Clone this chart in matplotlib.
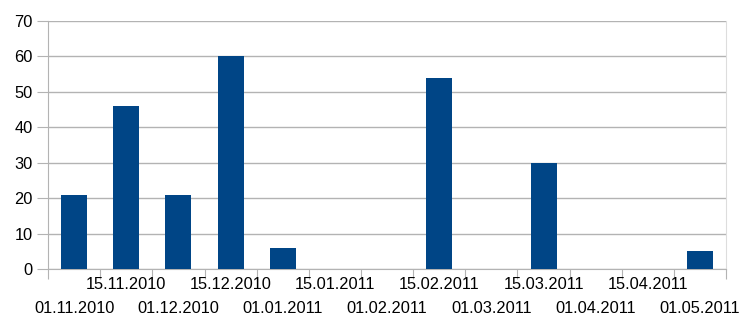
import matplotlib
matplotlib.use('Agg')
import matplotlib.pyplot as plt
import numpy as np

# Daten: halbmonatliche Kategorien
dates = ['01.11.2010', '15.11.2010', '01.12.2010', '15.12.2010', '01.01.2011',
         '15.01.2011', '01.02.2011', '15.02.2011', '01.03.2011', '15.03.2011',
         '01.04.2011', '15.04.2011', '01.05.2011']
values = [21, 46, 21, 60, 6, 0, 0, 54, 0, 30, 0, 0, 5]
yticks = [0, 10, 20, 30, 40, 50, 60, 70]

plt.rcParams['font.family'] = ['Liberation Sans', 'DejaVu Sans']

fig = plt.figure(figsize=(7.54, 3.19), dpi=100)
ax = fig.add_axes([0.0637, 0.1567, 0.963 - 0.0637, 0.934 - 0.1567])

x = np.arange(len(dates))
ax.bar(x, values, width=0.5, color='#004586', zorder=3)

ax.set_xlim(-0.5, len(dates) - 0.5)
ax.set_ylim(0, 70)
ax.set_yticks(yticks)
ax.set_yticklabels([str(v) for v in yticks], fontsize=11.8)
ax.yaxis.grid(True, color='#b3b3b3', linewidth=1)

# Striche an den Kategoriegrenzen, Beschriftung in der Mitte
ax.set_xticks(np.arange(len(dates) + 1) - 0.5)
ax.set_xticklabels([])
ax.set_xticks(x, minor=True)
ax.set_xticklabels(dates, minor=True, fontsize=11.8)

ax.tick_params(axis='x', which='major', length=7, color='#b3b3b3')
ax.tick_params(axis='x', which='minor', length=0, pad=6)
ax.tick_params(axis='y', length=8, color='#b3b3b3', pad=3)

# versetzte Beschriftung: 01.xx unten, 15.xx oben
for i, t in enumerate(ax.xaxis.get_minor_ticks()):
    if i % 2 == 0:
        t.set_pad(23)

for s in ['left', 'bottom']:
    ax.spines[s].set_color('#b3b3b3')
ax.spines['right'].set_color('#dddddd')
ax.spines['top'].set_visible(False)

fig.savefig('out.png', dpi=100)
